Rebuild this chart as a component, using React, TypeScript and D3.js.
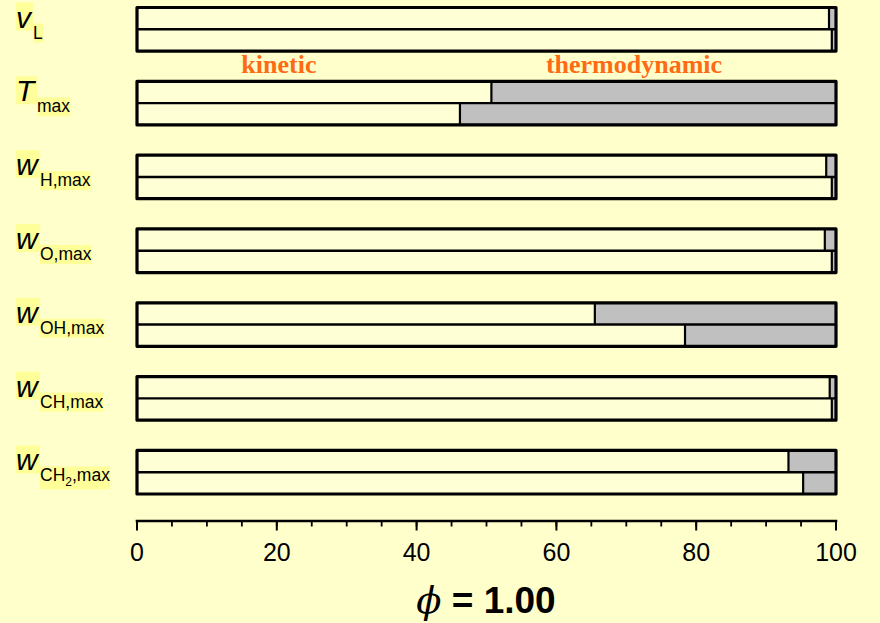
import React, { useEffect, useRef } from 'react';
import * as d3 from 'd3';

// quantities, in plotting order (top to bottom)
const metrics = ['vL', 'Tmax', 'wH', 'wO', 'wOH', 'wCH', 'wCH2'];
const symbols = ['v', 'T', 'w', 'w', 'w', 'w', 'w'];
// subscript pieces; "_" marks a lowered small piece
const subscripts = [['L'], ['max'], ['H,max'], ['O,max'], ['OH,max'], ['CH,max'], ['CH', '_2', ',max']];
// kinetic share (%) for the two rows of each quantity; rest is thermodynamic
const kineticTop = [99.0, 50.7, 98.6, 98.4, 65.5, 99.1, 93.2];
const kineticBottom = [99.4, 46.2, 99.4, 99.4, 78.4, 99.4, 95.3];
const xTickLabels = [0, 20, 40, 60, 80, 100];
const regionLabels = [{ text: 'kinetic', at: 20.3 }, { text: 'thermodynamic', at: 71.1 }];
const title = '= 1.00';

const W = 880;
const H = 623;
const BG = '#FFFFCC';
const BAR = '#FFFFD6';
const GREY = '#C0C0C0';
const HILITE = '#FFFF99';
const ORANGE = '#FF6A14';
const SANS = 'Liberation Sans, Arial, sans-serif';

const App = () => {
  const svgRef = useRef<SVGSVGElement>(null);

  useEffect(() => {
    const svg = d3.select(svgRef.current);
    svg.selectAll('*').remove();

    const x = d3.scaleLinear().domain([0, 100]).range([137, 836]);
    const y = d3.scaleBand().domain(metrics).range([7.5, 494]).paddingInner(0.41).paddingOuter(0);
    const bh = y.bandwidth();

    svg.append('rect').attr('width', W).attr('height', H).attr('fill', BG);

    const rows = metrics.map((m, i) => ({ m, i, top: kineticTop[i], bottom: kineticBottom[i] }));

    const g = svg.selectAll('g.metric').data(rows).join('g')
      .attr('class', 'metric')
      .attr('transform', d => `translate(0,${y(d.m)})`);

    [0, 1].forEach(r => {
      const val = (d: any) => (r === 0 ? d.top : d.bottom);
      g.append('rect')
        .attr('x', x(0)).attr('y', r * bh / 2)
        .attr('width', d => x(val(d)) - x(0)).attr('height', bh / 2)
        .attr('fill', BAR);
      g.append('rect')
        .attr('x', d => x(val(d))).attr('y', r * bh / 2)
        .attr('width', d => x(100) - x(val(d))).attr('height', bh / 2)
        .attr('fill', GREY);
      g.append('line')
        .attr('x1', d => x(val(d))).attr('x2', d => x(val(d)))
        .attr('y1', r * bh / 2).attr('y2', (r + 1) * bh / 2)
        .attr('stroke', '#000').attr('stroke-width', 2.2);
    });

    g.append('line')
      .attr('x1', x(0)).attr('x2', x(100))
      .attr('y1', bh / 2).attr('y2', bh / 2)
      .attr('stroke', '#000').attr('stroke-width', 2.4);

    g.append('rect')
      .attr('x', x(0)).attr('y', 0)
      .attr('width', x(100) - x(0)).attr('height', bh)
      .attr('fill', 'none').attr('stroke', '#000').attr('stroke-width', 3.2)
      .attr('stroke-linejoin', 'round');

    // left labels with highlighter boxes
    rows.forEach(d => {
      const top = y(d.m)!;
      const lg = svg.append('g');
      const bgLayer = lg.append('g');
      const sym = lg.append('text')
        .attr('x', 16).attr('y', top + 20)
        .attr('font-family', SANS)
        .attr('font-style', 'italic').attr('font-size', 30)
        .text(symbols[d.i]);
      const sb = (sym.node() as SVGTextElement).getBBox();
      bgLayer.append('rect')
        .attr('x', sb.x).attr('y', sb.y + 2).attr('width', sb.width).attr('height', sb.height - 5)
        .attr('fill', HILITE);

      const sub = lg.append('text')
        .attr('x', sb.x + sb.width).attr('y', top + 31)
        .attr('font-family', SANS)
        .attr('font-size', 17.5);
      let lowered = false;
      subscripts[d.i].forEach(p => {
        if (p.startsWith('_')) {
          sub.append('tspan').attr('font-size', 12).attr('dy', 5).text(p.slice(1));
          lowered = true;
        } else {
          sub.append('tspan').attr('dy', lowered ? -5 : 0).text(p);
          lowered = false;
        }
      });
      const bb = (sub.node() as SVGTextElement).getBBox();
      bgLayer.append('rect')
        .attr('x', bb.x).attr('y', bb.y + 1).attr('width', bb.width).attr('height', bb.height - 1)
        .attr('fill', HILITE);
    });

    // kinetic / thermodynamic labels
    svg.selectAll('text.region').data(regionLabels).join('text')
      .attr('class', 'region')
      .attr('x', d => x(d.at)).attr('y', 73)
      .attr('text-anchor', 'middle')
      .attr('font-family', 'Liberation Serif, Times New Roman, serif')
      .attr('font-weight', 'bold').attr('font-size', 26)
      .attr('fill', ORANGE)
      .text(d => d.text);

    // x axis
    const axisY = 521;
    svg.append('line')
      .attr('x1', x(0)).attr('x2', x(100)).attr('y1', axisY).attr('y2', axisY)
      .attr('stroke', '#000').attr('stroke-width', 2.6).attr('stroke-linecap', 'square');
    svg.selectAll('line.minor').data(x.ticks(25)).join('line')
      .attr('class', 'minor')
      .attr('x1', d => x(d)).attr('x2', d => x(d))
      .attr('y1', axisY).attr('y2', axisY + 5.5)
      .attr('stroke', '#000').attr('stroke-width', 1.8);
    svg.selectAll('line.major').data(xTickLabels).join('line')
      .attr('class', 'major')
      .attr('x1', d => x(d)).attr('x2', d => x(d))
      .attr('y1', axisY).attr('y2', axisY + 9.5)
      .attr('stroke', '#000').attr('stroke-width', 2);
    svg.selectAll('text.tick').data(xTickLabels).join('text')
      .attr('class', 'tick')
      .attr('x', d => x(d)).attr('y', 561)
      .attr('text-anchor', 'middle')
      .attr('font-family', SANS)
      .attr('font-size', 25)
      .text(d => d);

    // title
    const t = svg.append('text')
      .attr('x', 486).attr('y', 613)
      .attr('text-anchor', 'middle')
      .attr('font-family', SANS)
      .attr('font-weight', 'bold').attr('font-size', 37);
    t.append('tspan').attr('font-style', 'italic').attr('font-family', 'DejaVu Serif, serif').attr('font-weight', 'normal').text('\u03D5');
    t.append('tspan').text(' ' + title);
  }, []);

  return (
    <svg ref={svgRef} width={W} height={H}
      style={{ position: 'absolute', left: 0, top: 0, display: 'block' }} />
  );
};

export default App;
